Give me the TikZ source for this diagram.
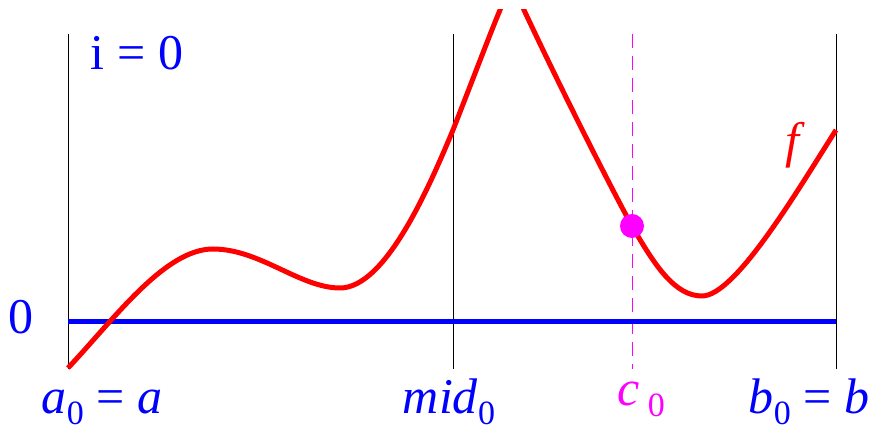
\documentclass[tikz,border=0pt]{standalone}
\usepackage{fontspec}
\setmainfont{Liberation Serif}
\definecolor{myred}{RGB}{255,0,0}
\definecolor{myblue}{RGB}{0,0,255}
\definecolor{mymag}{RGB}{255,0,255}
\newcommand{\sub}[1]{\raisebox{-0.22em}{\fontsize{17}{20}\selectfont #1}}
\begin{document}
\begin{tikzpicture}[x=0.5pt,y=-0.5pt,
  lbl/.style={font=\fontsize{25}{30}\selectfont, inner sep=0pt, anchor=base},
  vline/.style={black, line width=0.5pt},
  fcurve/.style={myred, line width=2.5pt, line join=round},
  axisline/.style={myblue, line width=2.5pt}]
\useasboundingbox (0,0) rectangle (869,432);
% coordinates
\coordinate (aT) at (68,34);  \coordinate (aB) at (68,369);
\coordinate (mT) at (453,34); \coordinate (mB) at (453,369);
\coordinate (bT) at (836,34); \coordinate (bB) at (836,369);
\coordinate (cT) at (632,34); \coordinate (cB) at (632,369);
\coordinate (zL) at (68,322); \coordinate (zR) at (836,322);
\coordinate (p0) at (68,368);
\coordinate (p1) at (213,249);
\coordinate (p2) at (340,288);
\coordinate (p3) at (453,130);
\coordinate (q1) at (500,10);
\coordinate (q2) at (524,10);
\coordinate (p5) at (632,226);
\coordinate (p6) at (702,296);
\coordinate (p7) at (836,130);
% vertical lines
\draw[vline] (aT) -- (aB);
\draw[vline] (mT) -- (mB);
\draw[vline] (bT) -- (bB);
\draw[mymag, line width=0.5pt, dash pattern=on 7pt off 4pt] (cT) -- (cB);
% zero line
\draw[axisline] (zL) -- (zR);
% curve
\begin{scope}
\clip (0,10) rectangle (869,432);
\draw[fcurve] (p0) .. controls (115,318) and (165,249) .. (p1)
  .. controls (260,249) and (300,288) .. (p2)
  .. controls (385,288) and (428,190) .. (p3)
  .. controls (478,66) and (490,34) .. (q1)
  .. controls (508,-12) and (516,-12) .. (q2)
  .. controls (560,87) and (610,186) .. (p5)
  .. controls (655,266) and (675,296) .. (p6)
  .. controls (735,296) and (796,193) .. (p7);
\end{scope}
% point
\fill[mymag] (p5) circle (12);
% labels
\node[lbl, myblue] (it) at (137,70) {i = 0};
\node[lbl, myblue] (zero) at (21,334) {0};
\node[lbl, myblue] (la) at (102,414) {\textit{a}\sub{0} = \textit{a}};
\node[lbl, myblue] (lm) at (449,414) {\textit{mid}\sub{0}};
\node[lbl, mymag] (lc) at (641,406) {\textit{c}\,\sub{0}};
\node[lbl, myblue] (lb) at (809,414) {\textit{b}\sub{0} = \textit{b}};
\node[lbl, myred] (lf) at (795,158) {\textit{f}};
\end{tikzpicture}
\end{document}
